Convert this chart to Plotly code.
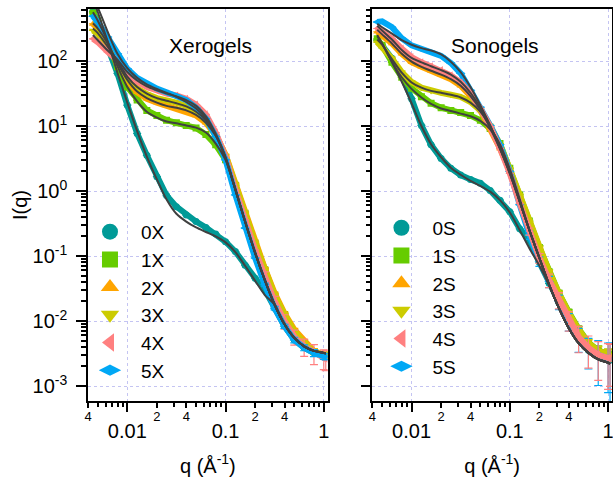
import plotly.graph_objects as go

# scattering vector (1/Angstrom), shared by all series
q = [0.00447, 0.00501, 0.00631, 0.00794, 0.0100, 0.0126, 0.0158, 0.0200, 0.0251,
     0.0316, 0.0398, 0.0501, 0.0631, 0.0794, 0.100, 0.126, 0.158, 0.200, 0.251,
     0.316, 0.398, 0.501, 0.631, 0.794, 1.00, 1.047]

# ---------------- Xerogels: data ----------------
I_0X = [575, 398, 162, 64.6, 20.9, 7.67, 3.55, 1.66, 0.851, 0.575, 0.427, 0.339, 0.275,
        0.219, 0.166, 0.117, 0.0724, 0.0457, 0.0302, 0.0158, 0.00832, 0.00513, 0.00389,
        0.00324, 0.00288, 0.00282]
I_1X = [550, 417, 195, 81.3, 39.8, 25.1, 17.4, 14.5, 12.3, 11.2, 10.2, 9.33, 7.41, 5.13,
        3.02, 1.23, 0.457, 0.158, 0.0617, 0.0251, 0.0126, 0.00692, 0.00457, 0.00339,
        0.00302, 0.00295]
I_2X = [372, 316, 186, 91.2, 50.1, 33.1, 26.3, 22.9, 20.4, 18.6, 17.0, 14.5, 11.2, 7.24,
        3.63, 1.32, 0.479, 0.166, 0.0646, 0.0269, 0.0132, 0.00741, 0.0049, 0.00347,
        0.00302, 0.00295]
I_3X = [295, 263, 162, 95.5, 53.7, 38.0, 30.9, 26.9, 25.1, 22.9, 20.4, 16.6, 12.3, 7.41,
        3.55, 1.23, 0.457, 0.158, 0.0617, 0.0251, 0.0126, 0.00692, 0.00457, 0.00339,
        0.00302, 0.00295]
I_4X = [219, 195, 138, 102, 64.6, 47.9, 39.8, 35.1, 31.6, 29.5, 26.3, 21.4, 15.1, 7.94,
        3.39, 1.04, 0.359, 0.124, 0.049, 0.020, 0.010, 0.00575, 0.00407, 0.00324,
        0.00269, 0.00263]
I_5X = [490, 398, 234, 129, 75.9, 55.0, 44.7, 37.6, 33.1, 29.5, 25.1, 19.1, 13.0, 6.92,
        3.02, 0.871, 0.269, 0.0933, 0.0363, 0.0158, 0.00832, 0.00513, 0.00389, 0.00324,
        0.00288, 0.00282]

E_0X = [0, 0, 0, 0, 0, 0, 0, 0, 0, 0, 0, 0, 0, 0, 0, 0, 0, 0, 0, 0, 0, 0, 0, 0, 0, 0]
E_1X = [0, 0, 0, 0, 0, 0, 0, 0, 0, 0, 0, 0, 0, 0, 0, 0, 0, 0, 0.002, 0.0008, 0.0005,
        0.0003, 0.0003, 0.0003, 0.0003, 0.0003]
E_2X = [0, 0, 0, 0, 0, 0, 0, 0, 0, 0, 0, 0, 0, 0, 0, 0, 0, 0, 0.002, 0.0008, 0.0005,
        0.0003, 0.0003, 0.0003, 0.0003, 0.0003]
E_3X = [0, 0, 0, 0, 0, 0, 0, 0, 0, 0, 0, 0, 0, 0, 0, 0, 0, 0, 0.002, 0.0008, 0.0005,
        0.0003, 0.0003, 0.0003, 0.0003, 0.0003]
E_4X = [0, 0, 0, 0, 0, 0, 0, 0, 0, 0, 0, 0, 0, 0, 0, 0, 0, 0, 0.008, 0.004, 0.0025,
        0.0015, 0.0012, 0.0011, 0.0009, 0.0009]
E_5X = [0, 0, 0, 0, 0, 0, 0, 0, 0, 0, 0, 0, 0, 0, 0, 0, 0, 0, 0.002, 0.001, 0.0006,
        0.0005, 0.0004, 0.0004, 0.0003, 0.0003]

# ---------------- Xerogels: fits ----------------
F_0X = [891, 562, 200, 66.1, 22.9, 8.32, 3.39, 1.51, 0.741, 0.447, 0.339, 0.275, 0.234,
        0.200, 0.162, 0.115, 0.0708, 0.0417, 0.0251, 0.0178, 0.00891, 0.0055, 0.00407,
        0.00347, 0.00324, 0.00316]
F_1X = [562, 417, 200, 83.2, 39.8, 24.0, 16.6, 13.5, 11.7, 11.0, 10.2, 9.44, 7.94, 5.37,
        3.02, 1.05, 0.339, 0.112, 0.0427, 0.0178, 0.00891, 0.0055, 0.00407, 0.00347,
        0.00324, 0.00316]
F_2X = [380, 316, 186, 93.3, 51.3, 33.9, 26.9, 22.9, 20.4, 19.1, 17.4, 14.8, 11.2, 7.08,
        3.31, 1.05, 0.339, 0.112, 0.0427, 0.0178, 0.00891, 0.0055, 0.00407, 0.00347,
        0.00324, 0.00316]
F_3X = [316, 269, 166, 100, 57.5, 39.8, 31.6, 26.9, 24.5, 22.4, 20.0, 16.6, 12.3, 7.24,
        3.31, 1.05, 0.339, 0.112, 0.0427, 0.0178, 0.00891, 0.0055, 0.00407, 0.00347,
        0.00324, 0.00316]
F_4X = [251, 209, 145, 105, 67.6, 50.1, 40.7, 35.5, 31.6, 28.5, 25.1, 20.4, 14.1, 7.59,
        3.24, 1.05, 0.339, 0.112, 0.0427, 0.0178, 0.00891, 0.0055, 0.00407, 0.00347,
        0.00324, 0.00316]
F_5X = [891, 661, 282, 129, 77.6, 55.0, 43.7, 37.2, 32.4, 28.2, 23.4, 18.6, 13.0, 7.24,
        3.16, 1.05, 0.339, 0.112, 0.0427, 0.0178, 0.00891, 0.0055, 0.00407, 0.00347,
        0.00324, 0.00316]

# ---------------- Sonogels: data ----------------
I_0S = [209, 174, 110, 60.3, 26.3, 10.2, 5.13, 3.16, 2.24, 1.76, 1.51, 1.32, 1.02, 0.724,
        0.479, 0.263, 0.178, 0.0794, 0.038, 0.0191, 0.00955, 0.00537, 0.00355, 0.00295,
        0.00263, 0.00251]
I_1S = [219, 174, 95.5, 56.2, 38.0, 28.2, 22.4, 19.1, 17.4, 16.2, 14.5, 12.3, 9.12, 5.37,
        2.24, 0.871, 0.347, 0.135, 0.0575, 0.0269, 0.0138, 0.00759, 0.00468, 0.00355,
        0.00309, 0.00302]
I_2S = [282, 245, 186, 129, 95.5, 81.3, 70.8, 61.7, 52.5, 41.7, 28.8, 17.4, 9.12, 4.52,
        2.04, 0.813, 0.316, 0.123, 0.055, 0.0251, 0.0126, 0.00692, 0.00447, 0.00339,
        0.00302, 0.00302]
I_3S = [195, 162, 110, 67.6, 47.9, 38.9, 34.7, 32.4, 30.2, 28.2, 23.4, 17.4, 10.2, 5.13,
        2.19, 0.871, 0.339, 0.132, 0.0575, 0.0269, 0.0132, 0.00741, 0.00457, 0.00347,
        0.00309, 0.00302]
I_4S = [316, 282, 219, 155, 115, 95.5, 83.2, 72.4, 60.3, 46.8, 31.6, 18.6, 9.77, 4.52,
        1.86, 0.646, 0.240, 0.0933, 0.0427, 0.0214, 0.0105, 0.00575, 0.00389, 0.00302,
        0.00269, 0.00269]
I_5S = [398, 407, 331, 224, 174, 151, 135, 120, 93.3, 64.6, 35.5, 19.5, 10.2, 5.13, 2.00,
        0.617, 0.211, 0.0832, 0.0407, 0.020, 0.010, 0.0055, 0.00363, 0.00302, 0.00269,
        0.00257]

E_0S = [0, 0, 0, 0, 0, 0, 0, 0, 0, 0, 0, 0, 0, 0, 0, 0, 0, 0, 0, 0, 0, 0, 0, 0, 0, 0]
E_1S = [0, 0, 0, 0, 0, 0, 0, 0, 0, 0, 0, 0, 0, 0, 0, 0, 0, 0.01, 0.004, 0.002, 0.001,
        0.0007, 0.0006, 0.0006, 0.0006, 0.0006]
E_2S = [0, 0, 0, 0, 0, 0, 0, 0, 0, 0, 0, 0, 0, 0, 0, 0, 0, 0.01, 0.004, 0.002, 0.001,
        0.0007, 0.0006, 0.0006, 0.0006, 0.0006]
E_3S = [0, 0, 0, 0, 0, 0, 0, 0, 0, 0, 0, 0, 0, 0, 0, 0, 0, 0.01, 0.004, 0.002, 0.001,
        0.0007, 0.0006, 0.0006, 0.0006, 0.0006]
E_4S = [0, 0, 0, 0, 0, 0, 0, 0, 0, 0, 0, 0, 0, 0, 0, 0, 0.03, 0.016, 0.010, 0.006,
        0.0035, 0.0025, 0.0020, 0.0018, 0.0018, 0.0017]
E_5S = [0, 0, 0, 0, 0, 0, 0, 0, 0, 0, 0, 0, 0, 0, 0, 0, 0.03, 0.014, 0.008, 0.005,
        0.003, 0.0022, 0.0018, 0.0020, 0.0019, 0.0020]

# ---------------- Sonogels: fits ----------------
F_0S = [251, 186, 95.5, 47.9, 22.4, 10.0, 5.25, 3.31, 2.29, 1.78, 1.43, 1.20, 0.977,
        0.724, 0.468, 0.251, 0.132, 0.0708, 0.0355, 0.0158, 0.00776, 0.00457, 0.00324,
        0.00257, 0.00229, 0.00219]
F_1S = [240, 186, 97.7, 56.2, 37.2, 27.5, 21.9, 18.6, 17.0, 15.5, 14.1, 12.0, 8.91, 5.25,
        2.19, 0.759, 0.251, 0.0933, 0.0363, 0.0158, 0.00776, 0.00457, 0.00324, 0.00257,
        0.00229, 0.00219]
F_2S = [302, 257, 186, 129, 97.7, 81.3, 70.8, 61.7, 52.5, 41.7, 28.8, 17.8, 9.33, 4.47,
        1.91, 0.692, 0.251, 0.0933, 0.0363, 0.0158, 0.00776, 0.00457, 0.00324, 0.00257,
        0.00229, 0.00219]
F_3S = [214, 178, 107, 66.1, 46.8, 38.9, 34.7, 32.4, 30.2, 27.5, 22.9, 16.6, 9.77, 4.79,
        2.00, 0.692, 0.251, 0.0933, 0.0363, 0.0158, 0.00776, 0.00457, 0.00324, 0.00257,
        0.00229, 0.00219]
F_4S = [347, 295, 214, 148, 112, 95.5, 83.2, 72.4, 61.7, 47.9, 32.4, 19.1, 10.0, 4.57,
        1.86, 0.692, 0.251, 0.0933, 0.0363, 0.0158, 0.00776, 0.00457, 0.00324, 0.00257,
        0.00229, 0.00219]
F_5S = [372, 331, 263, 209, 178, 158, 145, 126, 97.7, 67.6, 39.8, 20.9, 10.2, 4.52, 1.86,
        0.692, 0.251, 0.0933, 0.0363, 0.0158, 0.00776, 0.00457, 0.00324, 0.00257,
        0.00229, 0.00219]

# ---------------- labels / ticks ----------------
x_names = ["0X", "1X", "2X", "3X", "4X", "5X"]
s_names = ["0S", "1S", "2S", "3S", "4S", "5S"]
panel_titles = ["Xerogels", "Sonogels"]
x_major = [0.01, 0.1, 1]
x_major_text = ["0.01", "0.1", "1"]
x_minor_lab = [0.004, 0.02, 0.04, 0.2, 0.4]
x_minor_lab_text = ["4", "2", "4", "2", "4"]
x_minor = [0.004, 0.005, 0.006, 0.007, 0.008, 0.009, 0.02, 0.03, 0.04, 0.05, 0.06, 0.07,
           0.08, 0.09, 0.2, 0.3, 0.4, 0.5, 0.6, 0.7, 0.8, 0.9]
y_major = [0.001, 0.01, 0.1, 1, 10, 100]
y_major_text = ["10<sup>-3</sup>", "10<sup>-2</sup>", "10<sup>-1</sup>", "10<sup>0</sup>",
                "10<sup>1</sup>", "10<sup>2</sup>"]
y_minor = [m * d for d in (0.001, 0.01, 0.1, 1, 10, 100) for m in range(2, 10)]

colors = ["#009a97", "#66cc00", "#ffa500", "#cccc00", "#ff8080", "#00a8f5"]
symbols = ["circle", "square", "triangle-up", "triangle-down", "triangle-left",
           "diamond-wide"]
FIT = "#404040"
FONT = "Arial, Liberation Sans, sans-serif"

xero_I = [I_0X, I_1X, I_2X, I_3X, I_4X, I_5X]
xero_E = [E_0X, E_1X, E_2X, E_3X, E_4X, E_5X]
xero_F = [F_0X, F_1X, F_2X, F_3X, F_4X, F_5X]
sono_I = [I_0S, I_1S, I_2S, I_3S, I_4S, I_5S]
sono_E = [E_0S, E_1S, E_2S, E_3S, E_4S, E_5S]
sono_F = [F_0S, F_1S, F_2S, F_3S, F_4S, F_5S]

fig = go.Figure()

panels = [("x", "y", "legend", x_names, xero_I, xero_E, xero_F, [0, 1, 2, 3, 4, 5]),
          ("x2", "y2", "legend2", s_names, sono_I, sono_E, sono_F, [0, 1, 2, 3, 5, 4])]

for xa, ya, leg, names, Is, Es, Fs, order in panels:
    for k in order:
        fig.add_trace(go.Scatter(
            x=q, y=Is[k], xaxis=xa, yaxis=ya, mode="lines+markers",
            line=dict(color=colors[k], width=6),
            marker=dict(color=colors[k], size=7, symbol=symbols[k]),
            error_y=dict(type="data", array=Es[k], visible=True, color=colors[k],
                         thickness=1.2, width=4),
            showlegend=False, hoverinfo="skip"))
    for k in range(6):
        fig.add_trace(go.Scatter(
            x=q, y=Fs[k], xaxis=xa, yaxis=ya, mode="lines",
            line=dict(color=FIT, width=2, shape="spline", smoothing=0.8),
            showlegend=False, hoverinfo="skip"))
    for k in range(6):
        fig.add_trace(go.Scatter(
            x=[None], y=[None], xaxis=xa, yaxis=ya, mode="markers", name=names[k],
            marker=dict(color=colors[k], size=16, symbol=symbols[k]),
            legend=leg, showlegend=True))

# invisible carriers for the minor-label axes
fig.add_trace(go.Scatter(x=[0.01], y=[1], xaxis="x3", yaxis="y", mode="markers",
                         marker=dict(opacity=0), showlegend=False, hoverinfo="skip"))
fig.add_trace(go.Scatter(x=[0.01], y=[1], xaxis="x4", yaxis="y2", mode="markers",
                         marker=dict(opacity=0), showlegend=False, hoverinfo="skip"))

XR = [-2.40, 0.04]
YR = [-3.23, 2.80]

xcommon = dict(type="log", range=XR, tickmode="array", tickvals=x_major,
               ticktext=x_major_text, ticks="outside", ticklen=9, tickwidth=1.5,
               tickcolor="black", showline=True, linecolor="black", linewidth=1.5,
               mirror=True, showgrid=True, gridcolor="#c4c4f2", griddash="dot",
               gridwidth=1, zeroline=False, tickfont=dict(size=20, color="black"),
               ticklabelstandoff=2, ticklabeloverflow="allow", automargin=False,
               minor=dict(tickmode="array", tickvals=x_minor, ticks="outside",
                          ticklen=4, tickwidth=1.5, tickcolor="black", showgrid=False),
               title=dict(text="q (Å<sup>-1</sup>)", font=dict(size=20, color="black"),
                          standoff=18))
ycommon = dict(type="log", range=YR, tickmode="array", tickvals=y_major,
               ticktext=y_major_text, ticks="outside", ticklen=10, tickwidth=1.5,
               tickcolor="black", showline=True, linecolor="black", linewidth=1.5,
               mirror=True, showgrid=True, gridcolor="#c4c4f2", griddash="dot",
               gridwidth=1, zeroline=False, tickfont=dict(size=20, color="black"),
               ticklabelstandoff=5, automargin=False,
               minor=dict(tickmode="array", tickvals=y_minor, ticks="outside",
                          ticklen=5, tickwidth=1.5, tickcolor="black", showgrid=False))
xlab = dict(type="log", range=XR, tickmode="array", tickvals=x_minor_lab,
            ticktext=x_minor_lab_text, ticks="outside", ticklen=6, tickwidth=1.5,
            tickcolor="black", showline=False, showgrid=False, zeroline=False,
            tickfont=dict(size=13, color="black"), side="bottom", ticklabelstandoff=-3,
            ticklabeloverflow="allow", automargin=False)

D1 = [0, 0.4575]
D2 = [0.5425, 1]

fig.update_layout(
    width=613, height=484,
    margin=dict(l=88, r=1, t=9, b=83, autoexpand=False),
    paper_bgcolor="white", plot_bgcolor="white",
    font=dict(family=FONT, color="black"),
    xaxis=dict(domain=D1, anchor="y", **xcommon),
    xaxis2=dict(domain=D2, anchor="y2", **xcommon),
    xaxis3=dict(domain=D1, anchor="y", overlaying="x", **xlab),
    xaxis4=dict(domain=D2, anchor="y2", overlaying="x2", **xlab),
    yaxis=dict(domain=[0, 1], anchor="x",
               title=dict(text="I(q)", font=dict(size=20, color="black"), standoff=0),
               **ycommon),
    yaxis2=dict(domain=[0, 1], anchor="x2", showticklabels=False, **ycommon),
    legend=dict(x=-0.0172, y=0.48, xanchor="left", yanchor="top",
                bgcolor="rgba(0,0,0,0)", font=dict(size=19, color="black"),
                itemwidth=52, tracegroupgap=0),
    legend2=dict(x=0.539, y=0.49, xanchor="left", yanchor="top",
                 bgcolor="rgba(0,0,0,0)", font=dict(size=19, color="black"),
                 itemwidth=52, tracegroupgap=0),
    annotations=[
        dict(text=panel_titles[0], xref="x domain", yref="y domain", x=0.51, y=0.908,
             xanchor="center", yanchor="middle", showarrow=False,
             font=dict(size=21, color="black")),
        dict(text=panel_titles[1], xref="x2 domain", yref="y2 domain", x=0.51, y=0.908,
             xanchor="center", yanchor="middle", showarrow=False,
             font=dict(size=21, color="black")),
    ],
)

fig.write_html("out.html", config={"displayModeBar": False},
               post_script="document.body.style.margin='0px';")
